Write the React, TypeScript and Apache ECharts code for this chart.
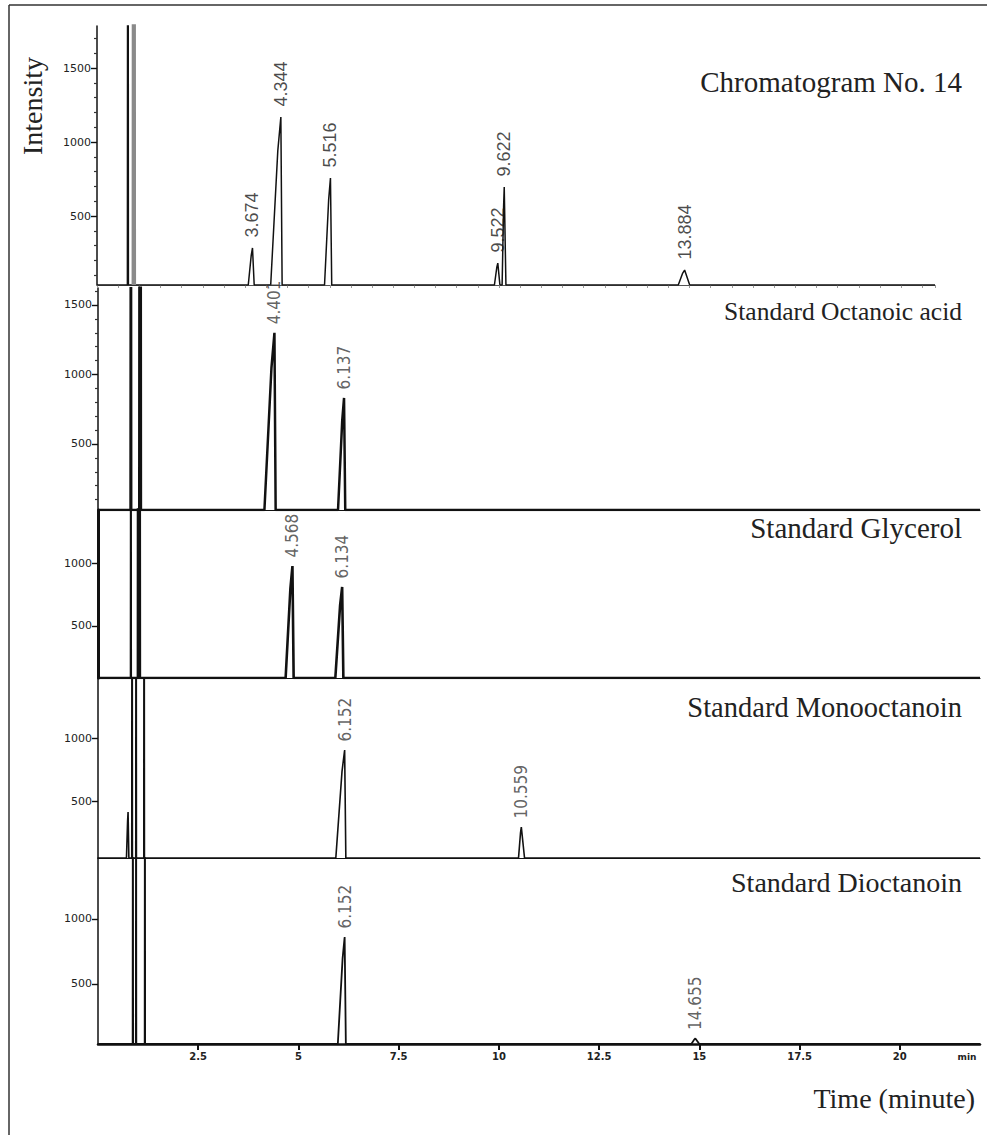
import React, { useEffect, useRef } from "react";
import * as echarts from "echarts";

// ---------- Data ----------
// Panel 1 : Chromatogram No. 14
const p1PeakTimes = [3.674, 4.344, 5.516, 9.47, 9.622, 13.884];
const p1PeakHeights = [284, 1169, 757, 182, 696, 135];
const p1PeakLabels = ["3.674", "4.344", "5.516", "9.522", "9.622", "13.884"];
const p1Lead = [0.1, 0.24, 0.14, 0.08, 0.05, 0.15];
const p1Tail = [0.04, 0.03, 0.03, 0.05, 0.04, 0.12];
const p1SolventTimes = [0.73, 0.87];

// Panel 2 : Standard Octanoic acid
const p2PeakTimes = [4.401, 6.137];
const p2PeakHeights = [1300, 831];
const p2PeakLabels = ["4.401", "6.137"];
const p2Lead = [0.25, 0.15];
const p2Tail = [0.03, 0.03];
const p2SolventTimes = [0.82, 1.05];

// Panel 3 : Standard Glycerol
const p3PeakTimes = [4.85, 6.09];
const p3PeakHeights = [976, 810];
const p3PeakLabels = ["4.568", "6.134"];
const p3Lead = [0.17, 0.17];
const p3Tail = [0.03, 0.03];
const p3SolventTimes = [0.82, 1.02];

// Panel 4 : Standard Monooctanoin
const p4PeakTimes = [0.75, 6.152, 10.559];
const p4PeakHeights = [413, 905, 294];
const p4PeakLabels = ["", "6.152", "10.559"];
const p4Lead = [0.04, 0.22, 0.07];
const p4Tail = [0.02, 0.03, 0.08];
const p4SolventTimes = [0.85, 0.95, 1.15];

// Panel 5 : Standard Dioctanoin
const p5PeakTimes = [6.152, 14.9];
const p5PeakHeights = [861, 80];
const p5PeakLabels = ["6.152", "14.655"];
const p5Lead = [0.17, 0.1];
const p5Tail = [0.03, 0.1];
const p5SolventTimes = [0.87, 0.95, 1.17];

// Axis ranges (value at bottom edge = detector baseline, value at top edge)
const yMins = [34, 25, 87, 48, 38];
const yMaxs = [1784, 1622, 1421, 1476, 1469];
const yMajorTicks = [
  [500, 1000, 1500],
  [500, 1000, 1500],
  [500, 1000],
  [500, 1000],
  [500, 1000],
];
const yMinorTicks = [100, 200, 300, 400, 600, 700, 800, 900, 1100, 1200, 1300, 1400, 1600, 1700];
const x1Max = 19.8;
const xMax = 22;
const xTickValues = [2.5, 5, 7.5, 10, 12.5, 15, 17.5, 20];

const panelTitles = [
  "Chromatogram No. 14",
  "Standard Octanoic acid",
  "Standard Glycerol",
  "Standard Monooctanoin",
  "Standard Dioctanoin",
];

// ---------- Layout / style ----------
const grids = [
  { left: 97, top: 26, width: 838, height: 259 },
  { left: 98, top: 288, width: 882, height: 222 },
  { left: 98, top: 510, width: 882, height: 168 },
  { left: 98, top: 678, width: 882, height: 180 },
  { left: 98, top: 858, width: 882, height: 186 },
];
const titleY = [82, 311, 528, 707, 882];
const titleSizes = [29, 25.5, 29, 28.5, 28];
const traceWidths = [1.5, 2.5, 2.6, 1.6, 1.8];
const solventWidths = [
  [1.5, 3.5],
  [2.2, 3.2],
  [1.4, 3.6],
  [1.3, 1.3, 1.3],
  [1.3, 1.3, 1.3],
];
const solventColors = [
  ["#111", "#8a8a8a"],
  ["#111", "#111"],
  ["#111", "#111"],
  ["#111", "#111", "#111"],
  ["#111", "#111", "#111"],
];
const yAxisWidths = [1.5, 1.5, 3, 1.5, 1.5];

const SERIF = '"Liberation Serif", "Times New Roman", serif';
const SANS = '"Liberation Sans", Arial, sans-serif';
const NARROW = '"Liberation Sans Narrow", "DejaVu Sans Condensed", sans-serif';
const WIDE = '"DejaVu Sans", sans-serif';

function buildTrace(
  xEnd: number,
  base: number,
  times: number[],
  heights: number[],
  lead: number[],
  tail: number[]
) {
  const pts: number[][] = [[0, base]];
  times.forEach((t, i) => {
    const h = heights[i];
    pts.push([t - lead[i], base]);
    pts.push([t - lead[i] * 0.3, base + (h - base) * 0.8]);
    pts.push([t, h]);
    pts.push([t + tail[i], base]);
  });
  pts.push([xEnd, base]);
  return pts;
}

const panels = [
  { times: p1PeakTimes, heights: p1PeakHeights, labels: p1PeakLabels, lead: p1Lead, tail: p1Tail, solvent: p1SolventTimes },
  { times: p2PeakTimes, heights: p2PeakHeights, labels: p2PeakLabels, lead: p2Lead, tail: p2Tail, solvent: p2SolventTimes },
  { times: p3PeakTimes, heights: p3PeakHeights, labels: p3PeakLabels, lead: p3Lead, tail: p3Tail, solvent: p3SolventTimes },
  { times: p4PeakTimes, heights: p4PeakHeights, labels: p4PeakLabels, lead: p4Lead, tail: p4Tail, solvent: p4SolventTimes },
  { times: p5PeakTimes, heights: p5PeakHeights, labels: p5PeakLabels, lead: p5Lead, tail: p5Tail, solvent: p5SolventTimes },
];

function buildOption() {
  const grid = grids.map((g) => ({ ...g, outerBoundsMode: "none", containLabel: false }));

  const xAxis: any[] = grids.map((_, i) => {
    if (i === 0) {
      return {
        gridIndex: 0,
        type: "value",
        min: 0,
        max: x1Max,
        interval: 0.5,
        axisLine: { show: true, onZero: false, lineStyle: { color: "#555", width: 1 } },
        axisTick: { show: true, length: 3, lineStyle: { color: "#999", width: 1 } },
        axisLabel: { show: false },
        splitLine: { show: false },
      };
    }
    if (i === 4) {
      return {
        gridIndex: 4,
        type: "value",
        min: 0,
        max: xMax,
        axisLine: { show: true, onZero: false, lineStyle: { color: "#111", width: 2.5 } },
        axisTick: { show: true, customValues: xTickValues, length: 6, lineStyle: { color: "#111", width: 2 } },
        axisLabel: {
          show: true,
          customValues: xTickValues,
          formatter: (v: number) => String(v),
          fontSize: 10,
          fontWeight: "bold",
          fontFamily: WIDE,
          color: "#222",
          margin: 7,
        },
        splitLine: { show: false },
      };
    }
    return {
      gridIndex: i,
      type: "value",
      min: 0,
      max: xMax,
      axisLine: { show: true, onZero: false, lineStyle: { color: "#111", width: 1.2 } },
      axisTick: { show: false },
      axisLabel: { show: false },
      splitLine: { show: false },
    };
  });

  const yAxis: any[] = grids.map((_, i) => ({
    gridIndex: i,
    type: "value",
    position: "left",
    min: yMins[i],
    max: yMaxs[i],
    axisLine: { show: true, onZero: false, lineStyle: { color: "#111", width: yAxisWidths[i] } },
    axisTick: { show: true, customValues: yMajorTicks[i], length: 6, lineStyle: { color: "#111", width: 1.4 } },
    axisLabel: {
      show: true,
      customValues: yMajorTicks[i],
      formatter: (v: number) => String(v),
      fontSize: 11,
      fontFamily: WIDE,
      color: "#222",
      margin: 6,
    },
    splitLine: { show: false },
  }));
  // minor ticks on the first two panels
  [0, 1].forEach((i) => {
    yAxis.push({
      gridIndex: i,
      type: "value",
      position: "left",
      min: yMins[i],
      max: yMaxs[i],
      axisLine: { show: false },
      axisTick: {
        show: true,
        customValues: yMinorTicks.filter((v) => v > yMins[i] && v < yMaxs[i]),
        length: 3,
        lineStyle: { color: "#333", width: 1.2 },
      },
      axisLabel: { show: false },
      splitLine: { show: false },
    });
  });

  const series: any[] = [];
  panels.forEach((p, i) => {
    const xEnd = i === 0 ? x1Max : xMax;
    series.push({
      type: "line",
      xAxisIndex: i,
      yAxisIndex: i,
      data: buildTrace(xEnd, yMins[i], p.times, p.heights, p.lead, p.tail),
      symbol: "none",
      clip: true,
      lineStyle: { color: "#111", width: traceWidths[i] },
      z: 3,
    });
    p.solvent.forEach((t, k) => {
      series.push({
        type: "line",
        xAxisIndex: i,
        yAxisIndex: i,
        data: [
          [t - 0.012, yMins[i]],
          [t, 6000],
          [t + 0.012, yMins[i]],
        ],
        symbol: "none",
        clip: true,
        lineStyle: { color: solventColors[i][k], width: solventWidths[i][k] },
        z: 4,
      });
    });
    const big = i === 0;
    series.push({
      type: "scatter",
      xAxisIndex: i,
      yAxisIndex: i,
      symbolSize: 1,
      itemStyle: { color: "rgba(0,0,0,0)" },
      data: p.times.map((t, k) => [t, p.heights[k]]),
      label: {
        show: true,
        formatter: (prm: any) => p.labels[prm.dataIndex],
        position: "top",
        distance: big ? 10 : 8,
        rotate: 90,
        align: "left",
        verticalAlign: "middle",
        fontSize: big ? 18 : 17,
        fontFamily: big ? SANS : NARROW,
        color: big ? "#1a1a1a" : "#3a3a3a",
      },
      z: 5,
    });
  });

  const graphic: any[] = [
    // outer frame of the figure
    { type: "line", shape: { x1: 9, y1: 5, x2: 987, y2: 5 }, style: { stroke: "#333", lineWidth: 1.5 } },
    { type: "line", shape: { x1: 9, y1: 5, x2: 9, y2: 1135 }, style: { stroke: "#333", lineWidth: 1.5 } },
    {
      type: "text",
      x: 32,
      y: 106,
      rotation: Math.PI / 2,
      style: { text: "Intensity", fontSize: 28, fontFamily: SERIF, fill: "#222", align: "center", verticalAlign: "middle" },
    },
    {
      type: "text",
      x: 975,
      y: 1098,
      style: { text: "Time (minute)", fontSize: 28, fontFamily: SERIF, fill: "#222", align: "right", verticalAlign: "middle" },
    },
    {
      type: "text",
      x: 967,
      y: 1057,
      style: { text: "min", fontSize: 9, fontWeight: "bold", fontFamily: WIDE, fill: "#222", align: "center", verticalAlign: "middle" },
    },
  ];
  panelTitles.forEach((t, i) => {
    graphic.push({
      type: "text",
      x: 962,
      y: titleY[i],
      style: { text: t, fontSize: titleSizes[i], fontFamily: SERIF, fill: "#222", align: "right", verticalAlign: "middle" },
    });
  });

  return {
    animation: false,
    backgroundColor: "#ffffff",
    grid,
    xAxis,
    yAxis,
    series,
    graphic,
  };
}

export default function App() {
  const ref = useRef<HTMLDivElement>(null);
  useEffect(() => {
    if (!ref.current) return;
    const chart = echarts.init(ref.current, undefined, { renderer: "svg" });
    chart.setOption(buildOption() as any);
    return () => chart.dispose();
  }, []);
  return (
    <div
      ref={ref}
      style={{ position: "fixed", left: 0, top: 0, width: 987, height: 1135, background: "#fff" }}
    />
  );
}
